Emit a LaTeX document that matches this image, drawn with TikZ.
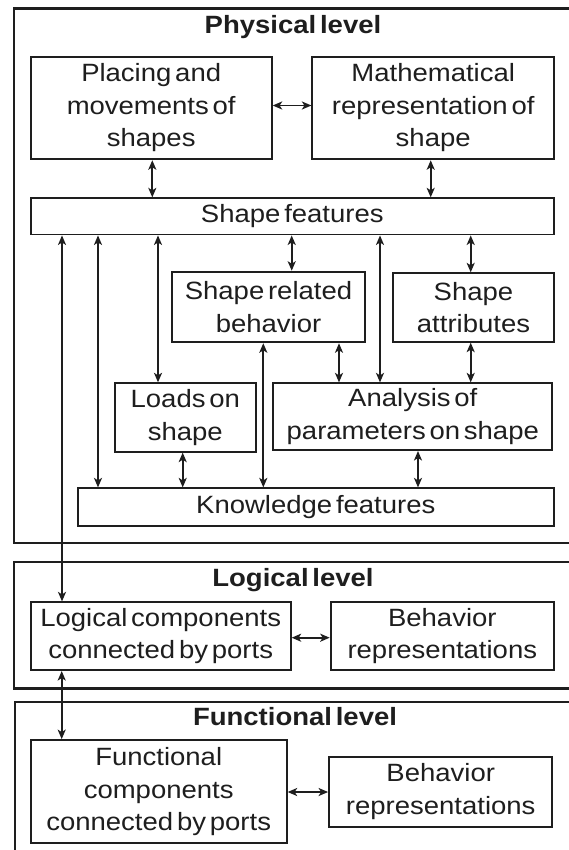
\documentclass[tikz,border=0pt]{standalone}
\usepackage{fontspec}
\setmainfont{Liberation Sans}[FakeStretch=1.1,WordSpace=0.5]
\usetikzlibrary{arrows.meta}
\definecolor{ink}{RGB}{30,30,30}
\begin{document}
\begin{tikzpicture}[x=1pt,y=-1pt,
  box/.style={draw=ink,line width=1.9pt,inner sep=0pt,align=center,text=ink,
    font=\fontsize{25}{32.5}\selectfont},
  frame/.style={draw=ink,line width=2.4pt},
  title/.style={anchor=base,text=ink,inner sep=0pt,font=\fontsize{25}{30}\selectfont\bfseries},
  tip/.tip={Stealth[length=9.5pt,width=8pt,inset=2.5pt]},
  link/.style={draw=ink,line width=1.8pt,tip-tip}
]
\useasboundingbox (0,0) rectangle (569,850);
\fill[white] (0,0) rectangle (569,850);

% level frames (open to the right)
\draw[frame] (575,8.7) -- (14,8.7) -- (14,542.7) -- (575,542.7);
\draw[frame] (575,561.7) -- (14,561.7) -- (14,688.3) -- (575,688.3);
\draw[frame] (575,701.7) -- (15,701.7) -- (15,852);

\node[title] (tphys) at (293,33.3) {Physical level};
\node[title] (tlog)  at (293,586.7) {Logical level};
\node[title] (tfun)  at (295,725) {Functional level};

% physical level
\node[box,minimum width=241pt,minimum height=102.6pt] (place) at (151.2,108) {Placing and\\movements of\\shapes};
\node[box,minimum width=241.7pt,minimum height=102.6pt] (math) at (433.2,108) {Mathematical\\representation of\\shape};
\node[box,minimum width=523.3pt,minimum height=36.2pt] (sf) at (292.3,216.4) {Shape features};
\node[box,minimum width=192.4pt,minimum height=70.6pt] (srb) at (268.5,307) {Shape related\\behavior};
\node[box,minimum width=161pt,minimum height=68.4pt] (sa) at (473.5,307.5) {Shape\\attributes};
\node[box,minimum width=140.7pt,minimum height=68.4pt] (loads) at (185.3,417.5) {Loads on\\shape};
\node[box,minimum width=279pt,minimum height=66.7pt] (ana) at (412.8,416.7) {Analysis of\\parameters on shape};
\node[box,minimum width=476.3pt,minimum height=37.7pt] (kf) at (315.8,507.2) {Knowledge features};

% logical level
\node[box,minimum width=260pt,minimum height=67.7pt] (lc) at (160.7,636.2) {Logical components\\connected by ports};
\node[box,minimum width=223.3pt,minimum height=67.7pt] (lb) at (442.3,636.2) {Behavior\\representations};

% functional level
\node[box,minimum width=256pt,minimum height=103.3pt] (fc) at (158.7,791.7) {Functional\\components\\connected by ports};
\node[box,minimum width=223.3pt,minimum height=70pt] (fb) at (440.7,791.7) {Behavior\\representations};

% connectors
\draw[link] (place.east |- 0,105.5) -- (math.west |- 0,105.5);
\draw[link] (152.3,0 |- place.south) -- (152.3,0 |- sf.north);
\draw[link] (430.7,0 |- math.south) -- (430.7,0 |- sf.north);
\draw[link] (62,0 |- sf.south) -- (62,0 |- lc.north);
\draw[link] (98,0 |- sf.south) -- (98,0 |- kf.north);
\draw[link] (158,0 |- sf.south) -- (158,0 |- loads.north);
\draw[link] (291.7,0 |- sf.south) -- (291.7,0 |- srb.north);
\draw[link] (380,0 |- sf.south) -- (380,0 |- ana.north);
\draw[link] (470.7,0 |- sf.south) -- (470.7,0 |- sa.north);
\draw[link] (339,0 |- srb.south) -- (339,0 |- ana.north);
\draw[link] (470.7,0 |- sa.south) -- (470.7,0 |- ana.north);
\draw[link] (263.3,0 |- srb.south) -- (263.3,0 |- kf.north);
\draw[link] (182.7,0 |- loads.south) -- (182.7,0 |- kf.north);
\draw[link] (418,0 |- ana.south) -- (418,0 |- kf.north);
\draw[link] (lc.east |- 0,637.7) -- (lb.west |- 0,637.7);
\draw[link] (61.7,0 |- lc.south) -- (61.7,0 |- fc.north);
\draw[link] (fc.east |- 0,792) -- (fb.west |- 0,792);
\end{tikzpicture}
\end{document}
